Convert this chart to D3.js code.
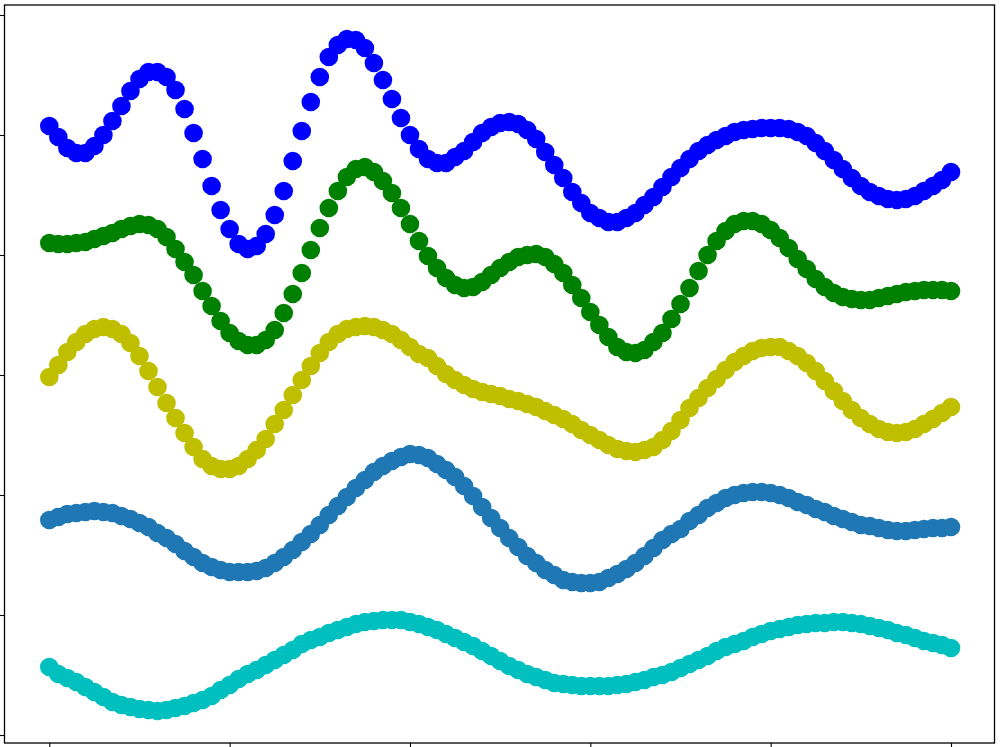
<!DOCTYPE html>
<html>
<head>
<meta charset="utf-8">
<script src="https://cdn.jsdelivr.net/npm/d3@7"></script>
<style>
  body { margin: 0; background: #fff; }
  svg { display: block; }
</style>
</head>
<body>
<div id="chart"></div>
<script>
// sample index along x (0..100), five offset wave series
var xs = d3.range(0, 101);

var blueVals = [609,598,587,582,582,589,600,614,629,644,656,663,663,658,645,626,602,576,549,525,
  506,491,486,489,501,520,544,574,604,633,658,678,690,696,695,687,672,655,636,617,
  600,586,576,572,572,578,584,593,602,608,612,613,611,605,596,583,570,557,543,532,
  522,517,513,513,517,522,530,538,548,558,567,576,584,590,595,599,603,605,606,607,
  607,607,606,603,599,592,584,575,566,557,549,543,539,536,535,536,539,544,549,555,563];

var greenVals = [492,491,491,492,493,496,499,502,506,509,511,510,506,498,486,473,460,444,429,414,
  402,394,390,390,395,405,422,441,462,485,507,527,544,558,566,568,563,554,542,527,
  511,494,479,467,457,450,447,448,453,460,467,473,478,480,481,478,471,462,450,437,
  423,410,398,388,383,382,385,393,402,416,431,447,464,480,494,504,511,514,514,511,
  505,497,487,476,466,456,448,442,438,436,435,435,437,439,441,443,444,445,445,445,444];

var yellowVals = [358,370,383,393,401,406,408,406,401,392,379,364,348,332,317,302,288,276,269,266,
  266,269,276,285,296,311,325,340,355,369,382,393,401,406,408,409,408,405,401,395,
  388,381,377,369,361,355,350,346,343,341,339,336,334,331,328,324,320,316,311,305,
  300,295,290,286,284,283,285,288,295,304,315,327,337,347,356,365,373,379,384,387,
  388,388,384,379,372,364,354,344,334,325,317,311,306,303,302,303,306,311,316,322,328];

var steelVals = [215,218,221,222,223,224,223,222,219,216,212,208,202,197,191,184,178,172,168,165,
  163,163,163,164,167,172,178,185,193,201,210,220,229,238,247,255,263,269,274,278,
  281,280,277,271,265,258,249,239,228,217,207,197,188,179,172,165,160,155,153,152,
  152,153,157,161,166,172,179,187,195,201,206,214,220,227,232,237,240,242,243,243,
  242,240,237,233,230,226,223,219,216,213,210,209,207,205,204,204,205,206,207,207,208];

var cyanVals = [68,61,57,53,48,43,38,33,30,28,26,25,24,25,27,29,32,35,39,45,
  50,56,61,65,70,75,80,85,91,95,98,102,105,108,111,113,114,115,115,115,
  113,111,108,105,101,97,93,89,84,79,74,69,65,61,58,55,52,51,50,49,
  49,49,49,50,51,53,55,58,60,63,67,71,75,79,84,88,91,94,98,101,
  104,106,108,110,111,112,112,113,113,112,111,109,107,105,102,100,97,94,92,90,87];

var seriesNames = ["blue", "green", "yellow", "steel", "cyan"];
var seriesColors = ["#0000ff", "#008000", "#bfbf00", "#1f77b4", "#00bfbf"];

var xTicks = [0, 20, 40, 60, 80, 100];
var yTicks = [0, 120, 240, 360, 480, 600, 720];

var width = 1000, height = 747;
var frame = {left: 4.5, right: 994.5, top: 5, bottom: 743};

var svg = d3.select("#chart")
    .append("svg")
    .attr("width", width)
    .attr("height", height);

var xScale = d3.scaleLinear()
    .domain([0, 100])
    .range([49.3, 951]);

var yScale = d3.scaleLinear()
    .domain([0, 720])
    .range([735, 15]);

var allSeries = [blueVals, greenVals, yellowVals, steelVals, cyanVals];

allSeries.forEach(function (vals, k) {
    svg.append("g")
        .attr("class", "series " + seriesNames[k])
        .selectAll("circle")
        .data(vals)
        .enter().append("circle")
        .attr("cx", function (d, i) { return xScale(xs[i]); })
        .attr("cy", function (d) { return yScale(d); })
        .attr("r", 9.3)
        .attr("fill", seriesColors[k]);
});

// axes: ticks only, the labels fall outside the picture
var xAxis = d3.axisBottom(xScale)
    .tickValues(xTicks)
    .tickFormat("")
    .tickSize(4.9)
    .tickSizeOuter(0);

var yAxis = d3.axisLeft(yScale)
    .tickValues(yTicks)
    .tickFormat("")
    .tickSize(4.9)
    .tickSizeOuter(0);

var gx = svg.append("g")
    .attr("transform", "translate(0," + frame.bottom + ")")
    .call(xAxis);
gx.select(".domain").remove();

var gy = svg.append("g")
    .attr("transform", "translate(" + frame.left + ",0)")
    .call(yAxis);
gy.select(".domain").remove();

svg.selectAll(".tick line")
    .attr("stroke", "#000")
    .attr("stroke-width", 1.1);

svg.append("rect")
    .attr("x", frame.left)
    .attr("y", frame.top)
    .attr("width", frame.right - frame.left)
    .attr("height", frame.bottom - frame.top)
    .attr("fill", "none")
    .attr("stroke", "#000")
    .attr("stroke-width", 1.3);
</script>
</body>
</html>
